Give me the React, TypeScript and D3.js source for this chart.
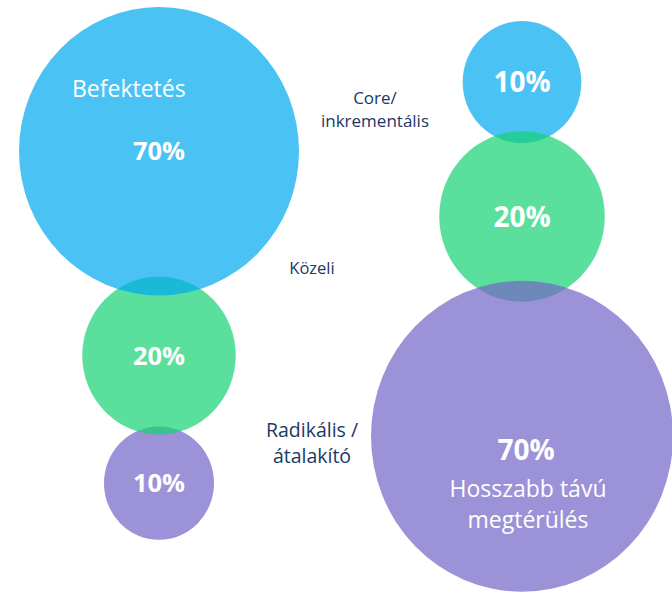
import React, { useRef, useEffect } from "react";
import { select, scalePow, scaleOrdinal } from "d3";

const categories = ["Core/ inkrementális", "Közeli", "Radikális / átalakító"];
const investmentShare = [70, 20, 10];
const returnShare = [10, 20, 70];
const percentLabels = ["70%", "20%", "10%"];
const returnLabels = ["10%", "20%", "70%"];
const colors = ["#00a9ef", "#16d474", "#7366c7"];

const W = 672;
const H = 594;
const STRETCH = 1.03;

const BubbleChart = () => {
  const svgRef = useRef(null);

  useEffect(() => {
    const svg = select(svgRef.current);
    svg.selectAll("*").remove();

    const color = scaleOrdinal().domain(categories).range(colors);

    // each column has its own radius scale
    const rLeft = scalePow().exponent(0.48).domain([0, 70]).range([0, 140]);
    const rRight = scalePow().exponent(0.48).domain([0, 70]).range([0, 151]);

    const columns = [
      { cx: 159, top: 7, overlap: [19, 8], values: investmentShare, labels: percentLabels, r: rLeft, size: 25.5 },
      { cx: 522, top: 21, overlap: [12, 21], values: returnShare, labels: returnLabels, r: rRight, size: 28 },
    ];

    const bubbles = [];
    columns.forEach((col, ci) => {
      let y = col.top;
      col.values.forEach((v, i) => {
        const rx = col.r(v);
        const ry = rx * STRETCH;
        if (i > 0) y -= col.overlap[i - 1];
        bubbles.push({ col: ci, cat: categories[i], v, label: col.labels[i], cx: col.cx, cy: y + ry, rx, ry, size: col.size });
        y += 2 * ry;
      });
    });

    const ordered = bubbles.slice().sort((a, b) => a.rx - b.rx);

    svg
      .selectAll(".bubble")
      .data(ordered)
      .join("ellipse")
      .attr("class", "bubble")
      .attr("cx", (d) => d.cx)
      .attr("cy", (d) => d.cy)
      .attr("rx", (d) => d.rx)
      .attr("ry", (d) => d.ry)
      .attr("fill", (d) => color(d.cat))
      .attr("fill-opacity", 0.71);

    svg
      .selectAll(".pct")
      .data(bubbles)
      .join("text")
      .attr("class", "pct")
      .attr("x", (d) => d.cx + (d.col === 1 && d.v === 70 ? 4 : 0))
      .attr("y", (d) => d.cy + (d.col === 1 && d.v === 70 ? 14 : 0))
      .attr("dy", "0.36em")
      .attr("text-anchor", "middle")
      .style("font-family", "'Open Sans', sans-serif")
      .style("font-weight", 700)
      .style("font-size", (d) => d.size + "px")
      .style("fill", "#fff")
      .text((d) => d.label);

    // column titles inside the big bubbles
    const big0 = bubbles.find((d) => d.col === 0 && d.v === 70);
    svg
      .append("text")
      .attr("x", big0.cx - 87)
      .attr("y", big0.cy - 54)
      .style("font-family", "'Open Sans', sans-serif")
      .style("font-size", "23px")
      .style("fill", "#fff")
      .text("Befektetés");

    const big1 = bubbles.find((d) => d.col === 1 && d.v === 70);
    svg
      .selectAll(".ret")
      .data(["Hosszabb távú", "megtérülés"])
      .join("text")
      .attr("class", "ret")
      .attr("x", big1.cx + 6)
      .attr("y", (d, i) => big1.cy + 61 + i * 31)
      .attr("text-anchor", "middle")
      .style("font-family", "'Open Sans', sans-serif")
      .style("font-size", "23px")
      .style("fill", "#fff")
      .text((d) => d);

    // category labels between the columns
    const catLabels = [
      { lines: ["Core/", "inkrementális"], x: 375, y: 104, size: 17, gap: 23 },
      { lines: ["Közeli"], x: 312, y: 274, size: 16.5, gap: 0 },
      { lines: ["Radikális /", "átalakító"], x: 312, y: 437, size: 19.5, gap: 26 },
    ];
    catLabels.forEach((c) => {
      svg
        .append("g")
        .selectAll("text")
        .data(c.lines)
        .join("text")
        .attr("x", c.x)
        .attr("y", (d, i) => c.y + i * c.gap)
        .attr("text-anchor", "middle")
        .style("font-family", "'Open Sans', sans-serif")
        .style("font-size", c.size + "px")
        .style("fill", "#203864")
        .text((d) => d);
    });
  }, []);

  return (
    <svg
      ref={svgRef}
      width={W}
      height={H}
      style={{ position: "absolute", left: 0, top: 0, display: "block", background: "#fff" }}
    />
  );
};

export default function App() {
  return <BubbleChart />;
}
